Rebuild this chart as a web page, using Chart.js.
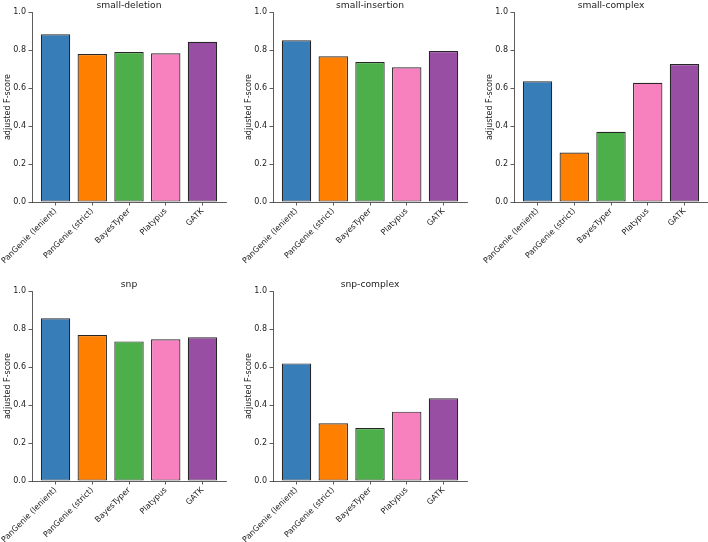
<!DOCTYPE html>
<html>
<head>
<meta charset="utf-8">
<script src="https://cdn.jsdelivr.net/npm/chart.js@4/dist/chart.umd.min.js"></script>
<style>
  html, body { margin: 0; padding: 0; background: #fff; width: 708px; height: 542px; overflow: hidden; }
  .panel { position: absolute; }
</style>
</head>
<body>
<canvas id="ch_small_deletion" class="panel"></canvas>
<canvas id="ch_small_insertion" class="panel"></canvas>
<canvas id="ch_small_complex" class="panel"></canvas>
<canvas id="ch_snp" class="panel"></canvas>
<canvas id="ch_snp_complex" class="panel"></canvas>
<script>
// categories + values
const methods = ['PanGenie (lenient)', 'PanGenie (strict)', 'BayesTyper', 'Platypus', 'GATK'];
const barColors = ['#377eb8', '#ff7f00', '#4daf4a', '#f781bf', '#984ea3'];

const smallDeletion  = [0.883, 0.779, 0.789, 0.783, 0.843];
const smallInsertion = [0.851, 0.767, 0.737, 0.709, 0.795];
const smallComplex   = [0.636, 0.260, 0.370, 0.628, 0.726];
const snp            = [0.857, 0.768, 0.735, 0.746, 0.757];
const snpComplex     = [0.619, 0.304, 0.279, 0.365, 0.436];

const yTicks = [0, 0.2, 0.4, 0.6, 0.8, 1.0];

const FONT = 'DejaVu Sans';
const INK = '#222';
const PLOT_W = 194, PLOT_H = 190, Y_AXIS_W = 32, TITLE_H = 12;

// panel placement (canvas box; plot area derived from fixed axis sizes)
const panels = [
  { id: 'ch_small_deletion',  title: 'small-deletion',  values: smallDeletion,  left: 0,   top: 0,   height: 279, padR: 10 },
  { id: 'ch_small_insertion', title: 'small-insertion', values: smallInsertion, left: 241, top: 0,   height: 279, padR: 10 },
  { id: 'ch_small_complex',   title: 'small-complex',   values: smallComplex,   left: 482, top: 0,   height: 279, padR: 0 },
  { id: 'ch_snp',             title: 'snp',             values: snp,            left: 0,   top: 279, height: 263, padR: 10 },
  { id: 'ch_snp_complex',     title: 'snp-complex',     values: snpComplex,     left: 241, top: 279, height: 263, padR: 10 }
];

function drawPanel(p) {
  const canvas = document.getElementById(p.id);
  const w = Y_AXIS_W + PLOT_W + p.padR;
  canvas.width = w; canvas.height = p.height;
  canvas.style.left = p.left + 'px'; canvas.style.top = p.top + 'px';
  canvas.style.width = w + 'px'; canvas.style.height = p.height + 'px';
  const xAxisH = p.height - TITLE_H - PLOT_H;

  new Chart(canvas.getContext('2d'), {
    type: 'bar',
    data: {
      datasets: [{
        data: p.values.map((v, i) => ({ x: i, y: v })),
        backgroundColor: barColors,
        borderColor: 'rgba(0,0,0,0.85)',
        borderWidth: 1.2,
        borderSkipped: false,
        categoryPercentage: 0.8,
        barPercentage: 1.0
      }]
    },
    options: {
      responsive: false,
      animation: false,
      devicePixelRatio: 1,
      layout: { autoPadding: false, padding: { left: 0, right: p.padR, top: 0, bottom: 0 } },
      plugins: {
        legend: { display: false },
        tooltip: { enabled: false },
        title: {
          display: true, text: p.title, fullSize: false, color: INK,
          font: { family: FONT, size: 9.2, weight: 'normal', lineHeight: 1.2 },
          padding: { top: 0, bottom: TITLE_H - 11 }
        }
      },
      scales: {
        x: {
          type: 'linear', offset: false,
          min: -0.64, max: 4.64,
          afterBuildTicks: s => { s.ticks = methods.map((m, i) => ({ value: i })); },
          afterFit: s => { s.height = xAxisH; s.paddingLeft = 0; s.paddingRight = 0; },
          grid: { display: true, drawOnChartArea: false, offset: false, tickLength: 3.5, color: '#333', lineWidth: 0.8 },
          border: { display: true, color: '#333', width: 0.8 },
          ticks: {
            autoSkip: false, minRotation: 45, maxRotation: 45, padding: 1,
            color: INK, font: { family: FONT, size: 8 },
            callback: v => methods[v]
          }
        },
        y: {
          min: 0, max: 1,
          afterBuildTicks: s => { s.ticks = yTicks.map(v => ({ value: v })); },
          afterFit: s => { s.width = Y_AXIS_W; s.paddingTop = 0; s.paddingBottom = 0; },
          grid: { display: true, drawOnChartArea: false, tickLength: 3.5, color: '#333', lineWidth: 0.8 },
          border: { display: true, color: '#333', width: 0.8 },
          ticks: {
            padding: 2.5, color: INK, font: { family: FONT, size: 8 },
            callback: v => v.toFixed(1)
          },
          title: {
            display: true, text: 'adjusted F-score', color: INK,
            font: { family: FONT, size: 8, lineHeight: 1.2 },
            padding: { top: 3, bottom: 0 }
          }
        }
      }
    }
  });
}

panels.forEach(drawPanel);
</script>
</body>
</html>
